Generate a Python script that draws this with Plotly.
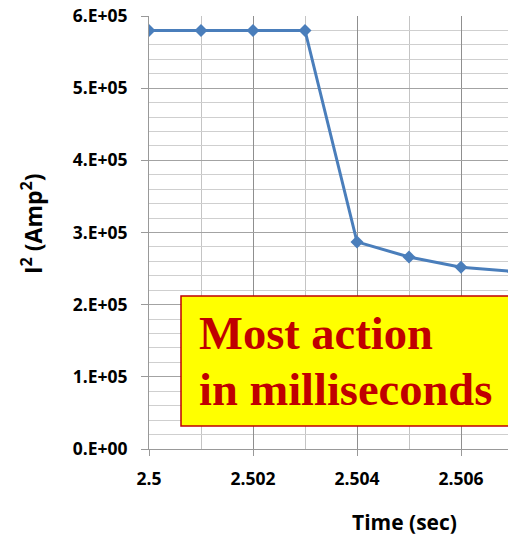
import plotly.graph_objects as go

# Squared current during the fault-clearing transient
time_s = [2.500, 2.501, 2.502, 2.503, 2.504, 2.505, 2.506, 2.507]
i_squared = [5.8e5, 5.8e5, 5.8e5, 5.8e5, 2.87e5, 2.66e5, 2.52e5, 2.46e5]

y_tick_vals = [0, 1e5, 2e5, 3e5, 4e5, 5e5, 6e5]
y_tick_text = ["0.E+00", "1.E+05", "2.E+05", "3.E+05", "4.E+05", "5.E+05", "6.E+05"]
x_tick_vals = [2.500, 2.502, 2.504, 2.506]
x_tick_text = ["2.5", "2.502", "2.504", "2.506"]

W, H = 508, 535
L, R, T, B = 149, 0, 16, 86
PW, PH = W - L - R, H - T - B


def px_x(p):
    return (p - L) / PW


def px_y(p):
    return (H - B - p) / PH


tick_font = dict(family="Open Sans", size=17.5, color="#000000", weight="bold")
axis_color = "#999999"

fig = go.Figure()
fig.add_trace(go.Scatter(
    x=time_s, y=i_squared, mode="lines+markers",
    line=dict(color="#4a7ebb", width=3),
    marker=dict(symbol="diamond", size=10, color="#4a7ebb"),
    showlegend=False,
))

fig.update_layout(
    width=W, height=H,
    margin=dict(l=L, r=R, t=T, b=B),
    paper_bgcolor="white", plot_bgcolor="white",
    xaxis=dict(
        range=[2.5, 2.5 + PW / 52000], tickvals=x_tick_vals, ticktext=x_tick_text,
        showgrid=True, gridcolor="#8f8f8f", gridwidth=1,
        minor=dict(dtick=0.001, tick0=2.5, showgrid=True, gridcolor="#c4c4c4", gridwidth=1),
        showline=True, linecolor=axis_color, linewidth=1,
        ticks="outside", ticklen=6, tickcolor=axis_color,
        ticklabelstandoff=8,
        tickfont=tick_font, zeroline=False,
    ),
    yaxis=dict(
        range=[0, 6e5], tickvals=y_tick_vals, ticktext=y_tick_text,
        showgrid=True, gridcolor="#a3a3a3", gridwidth=1,
        minor=dict(dtick=2e4, tick0=0, showgrid=True, gridcolor="#cfcfcf", gridwidth=1),
        showline=True, linecolor=axis_color, linewidth=1,
        ticks="outside", ticklen=7, tickcolor=axis_color,
        ticklabelstandoff=10,
        tickfont=tick_font, zeroline=False,
    ),
)

# Axis titles
fig.add_annotation(
    text="I<sup>2</sup> (Amp<sup>2</sup>)", textangle=-90,
    xref="paper", yref="paper", x=px_x(32), y=px_y(224),
    xanchor="center", yanchor="middle", showarrow=False,
    font=dict(family="Open Sans", size=23, color="#000000", weight="bold"),
)
fig.add_annotation(
    text="Time (sec)",
    xref="paper", yref="paper", x=px_x(404), y=px_y(522),
    xanchor="center", yanchor="middle", showarrow=False,
    font=dict(family="Open Sans", size=21, color="#000000", weight="bold"),
)

# Callout box
fig.add_shape(
    type="rect", xref="paper", yref="paper",
    x0=px_x(181), x1=px_x(540), y0=px_y(426), y1=px_y(296),
    fillcolor="#ffff00", line=dict(color="#c00000", width=1.5), layer="above",
)
callout_font = dict(family="Liberation Serif", size=46.5, color="#c00000", weight="bold")
fig.add_annotation(
    text="Most action", xref="paper", yref="paper",
    x=px_x(197), y=px_y(333), xanchor="left", yanchor="middle",
    showarrow=False, font=callout_font,
)
fig.add_annotation(
    text="in milliseconds", xref="paper", yref="paper",
    x=px_x(197), y=px_y(389), xanchor="left", yanchor="middle",
    showarrow=False, font=callout_font,
)

fig.write_html("out.html")
